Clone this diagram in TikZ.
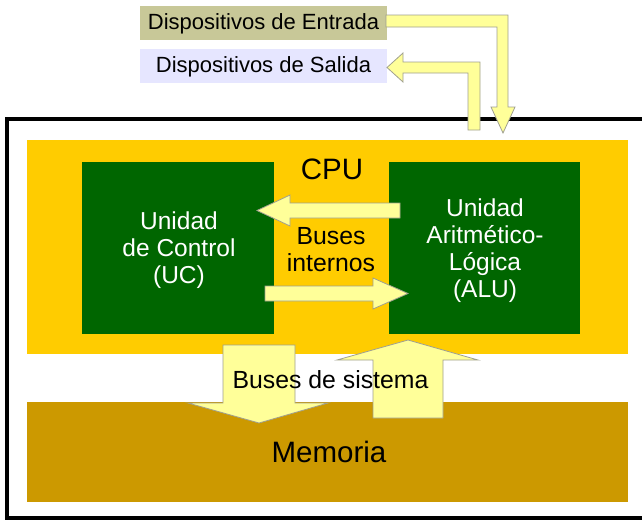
\documentclass[tikz,border=0pt]{standalone}
\usepackage{fontspec}
\setmainfont{Liberation Sans}
\definecolor{cpuyellow}{HTML}{FFCC00}
\definecolor{unitgreen}{HTML}{006600}
\definecolor{memgold}{HTML}{CC9900}
\definecolor{inbox}{HTML}{C8C898}
\definecolor{outbox}{HTML}{E6E6FF}
\definecolor{busfill}{HTML}{FFFF99}
\definecolor{busedge}{HTML}{A0A090}
\begin{document}
\begin{tikzpicture}[x=1pt,y=-1pt,
  block/.style={rectangle, inner sep=0pt, outer sep=0pt, draw=none},
  busarrow/.style={fill=busfill, draw=busedge, line width=0.8pt, line join=miter},
  devlabel/.style={block, font=\fontsize{22}{25}\selectfont, text height=16pt, text depth=3pt},
  unitlabel/.style={inner sep=0pt, align=center, text=white, font=\fontsize{24.5}{27}\selectfont},
  buslabel/.style={inner sep=0pt, align=center, font=\fontsize{24.8}{27}\selectfont},
  biglabel/.style={inner sep=0pt, anchor=base, font=\fontsize{29.5}{33}\selectfont}]
\useasboundingbox (0,0) rectangle (642,520);

% computer frame (open on the right)
\draw[line width=3.5pt] (642,119) -- (7,119) -- (7,518) -- (642,518);

% blocks
\node[block, fill=cpuyellow, minimum width=601pt, minimum height=214pt] (cpu) at (327.5,246.5) {};
\node[block, fill=unitgreen, minimum width=192pt, minimum height=172pt] (uc) at (178,248) {};
\node[block, fill=unitgreen, minimum width=191pt, minimum height=172pt] (alu) at (484.5,248) {};
\node[block, fill=memgold, minimum width=601pt, minimum height=100pt] (mem) at (327.5,451.5) {};
\node[devlabel, fill=inbox, minimum width=247pt, minimum height=34pt] (entrada) at (263.5,23) {Dispositivos de Entrada};
\node[devlabel, fill=outbox, minimum width=247pt, minimum height=34pt] (salida) at (263.5,66) {Dispositivos de Salida};

% input devices -> CPU
\draw[busarrow] (386,15) -- (508,15) -- (508,107) -- (515,107) -- (503,133)
  -- (491,107) -- (497,107) -- (497,27) -- (386,27) -- cycle;
% CPU -> output devices
\draw[busarrow] (480,130) -- (480,62) -- (403,62) -- (403,53) -- (387,67.5)
  -- (403,82) -- (403,73) -- (468,73) -- (468,130) -- cycle;

% internal buses
\draw[busarrow] (400,203) -- (290,203) -- (290,195) -- (257,210.5)
  -- (290,226) -- (290,218) -- (400,218) -- cycle;
\draw[busarrow] (265,286) -- (373,286) -- (373,278) -- (408,293.5)
  -- (373,309) -- (373,301) -- (265,301) -- cycle;

% system buses
\draw[busarrow] (223,345) -- (295,345) -- (295,403) -- (328,403)
  -- (259,423) -- (188,403) -- (223,403) -- cycle;
\draw[busarrow] (373,418) -- (373,360) -- (337,360) -- (408,340)
  -- (478,360) -- (443,360) -- (443,418) -- cycle;

% labels
\node[biglabel] (cputxt) at (332,179) {CPU};
\node[biglabel] (memtxt) at (329,462) {Memoria};
\node[unitlabel] (uctxt) at (179,250) {Unidad\\de Control\\(UC)};
\node[unitlabel] (alutxt) at (485,250.5) {Unidad\\Aritmético-\\Lógica\\(ALU)};
\node[buslabel] (bitxt) at (331,250) {Buses\\internos};
\node[buslabel, anchor=base] (bstxt) at (330.5,388) {Buses de sistema};
\end{tikzpicture}
\end{document}
